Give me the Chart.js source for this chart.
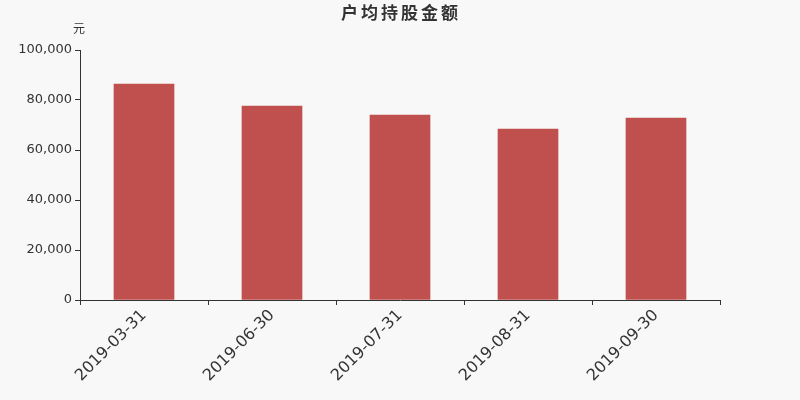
<!DOCTYPE html>
<html>
<head>
<meta charset="utf-8">
<script src="https://cdn.jsdelivr.net/npm/chart.js@4/dist/chart.umd.min.js"></script>
<style>
  html, body { margin: 0; padding: 0; background: #f8f8f8; }
  #wrap { width: 800px; height: 400px; }
</style>
</head>
<body>
<div id="wrap"><canvas id="c" width="800" height="400"></canvas></div>
<script>
// data
const dates = ["2019-03-31", "2019-06-30", "2019-07-31", "2019-08-31", "2019-09-30"];
const amounts = [86400, 77600, 74000, 68400, 72800];
const yTicks = [0, 20000, 40000, 60000, 80000, 100000];

const chartTitle = "户均持股金额";
const unitLabel = "元";

// title + unit, drawn on the canvas after the chart
const headerText = {
  id: "headerText",
  afterDraw(chart) {
    const ctx = chart.ctx;
    ctx.save();
    ctx.fillStyle = "#333";
    ctx.textAlign = "center";
    ctx.textBaseline = "middle";
    ctx.font = "bold 17px 'Noto Sans CJK SC', sans-serif";
    ctx.letterSpacing = "3px";
    ctx.fillText(chartTitle, 401, 13);
    ctx.letterSpacing = "0px";
    ctx.font = "12px 'Noto Sans CJK SC', sans-serif";
    ctx.fillText(unitLabel, 79, 28);
    ctx.restore();
  }
};

new Chart(document.getElementById("c"), {
  type: "bar",
  data: {
    labels: dates,
    datasets: [{
      data: amounts,
      backgroundColor: "#c0504e",
      barThickness: 60
    }]
  },
  options: {
    responsive: false,
    animation: false,
    layout: { padding: { top: 50, right: 80, left: 0, bottom: 0 } },
    plugins: { legend: { display: false }, tooltip: { enabled: false } },
    scales: {
      x: {
        grid: { display: true, drawOnChartArea: false, drawTicks: true, tickLength: 5, color: "#333", offset: true },
        border: { display: true, color: "#333" },
        ticks: {
          color: "#333",
          font: { family: "DejaVu Sans", size: 16 },
          minRotation: 45, maxRotation: 45, padding: 1
        },
        afterFit(scale) { scale.height = 100; }
      },
      y: {
        min: 0, max: 100000,
        afterBuildTicks(scale) { scale.ticks = yTicks.map(v => ({ value: v })); },
        grid: { display: true, drawOnChartArea: false, drawTicks: true, tickLength: 5, color: "#333" },
        border: { display: true, color: "#333" },
        ticks: {
          color: "#333",
          font: { family: "DejaVu Sans", size: 13 },
          padding: 3,
          callback: v => v.toLocaleString("en-US")
        },
        afterFit(scale) { scale.width = 80; }
      }
    }
  },
  plugins: [headerText]
});
</script>
</body>
</html>
